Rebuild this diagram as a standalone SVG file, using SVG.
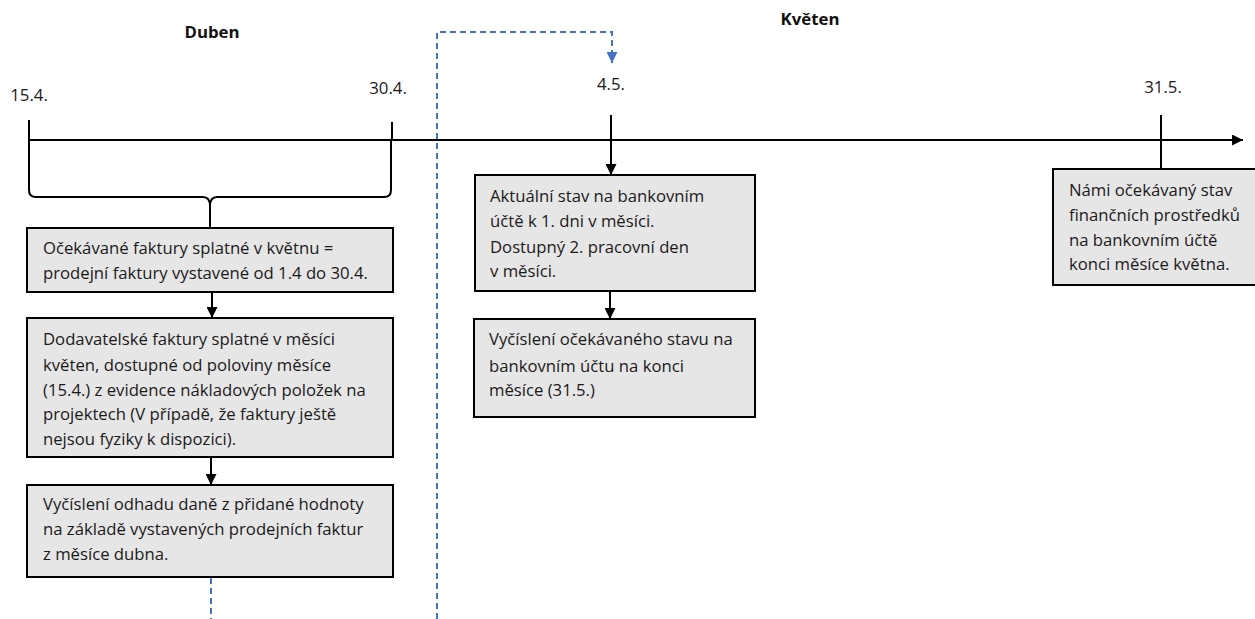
<svg xmlns="http://www.w3.org/2000/svg" width="1255" height="619" viewBox="0 0 1255 619">
<defs>
<style>
.t{font-family:"Open Sans","Liberation Sans",Arial,sans-serif;font-size:16.7px;fill:#1a1a1a}
.d{font-family:"Open Sans","Liberation Sans",Arial,sans-serif;font-size:16.8px;fill:#1a1a1a}
.h{font-family:"Open Sans","Liberation Sans",Arial,sans-serif;font-size:16.8px;font-weight:bold;fill:#111}
.box{fill:#e7e6e6;stroke:#000;stroke-width:2}
.ln{fill:none;stroke:#000;stroke-width:2}
.dash{fill:none;stroke:#4472c4;stroke-width:2;stroke-dasharray:6,4}
</style>
<marker id="ah" viewBox="0 0 10 10" refX="10" refY="5" markerWidth="5.5" markerHeight="5.5" orient="auto" markerUnits="strokeWidth"><path d="M0,0L10,5L0,10z" fill="#000"/></marker>
<marker id="ahb" viewBox="0 0 10 10" refX="10" refY="5" markerWidth="5.5" markerHeight="5.5" orient="auto" markerUnits="strokeWidth"><path d="M0,0L10,5L0,10z" fill="#4472c4"/></marker>
</defs>
<rect width="1255" height="619" fill="#fff"/>
<g id="labels">
<text class="h" x="212" y="38" text-anchor="middle">Duben</text>
<text class="h" x="810" y="25" text-anchor="middle">Květen</text>
<text class="d" x="29" y="101" text-anchor="middle">15.4.</text>
<text class="d" x="388" y="94" text-anchor="middle">30.4.</text>
<text class="d" x="611" y="90" text-anchor="middle">4.5.</text>
<text class="d" x="1163" y="93" text-anchor="middle">31.5.</text>
</g>
<g id="connectors">
<line class="ln" x1="29" y1="140" x2="1243" y2="140" marker-end="url(#ah)"/>
<line class="ln" x1="392" y1="122" x2="392" y2="140"/>
<line class="ln" x1="1161" y1="115" x2="1161" y2="169"/>
<path class="ln" d="M29,120 V190 Q29,197 36,197 H203 Q210,197 210,206 V228 M210,206 Q210,197 217,197 H384 Q391,197 391,190 V140"/>
<line class="ln" x1="611" y1="115" x2="611" y2="175" marker-end="url(#ah)"/>
<line class="ln" x1="212" y1="292" x2="212" y2="318" marker-end="url(#ah)"/>
<line class="ln" x1="211" y1="457" x2="211" y2="485" marker-end="url(#ah)"/>
<line class="ln" x1="610" y1="291" x2="610" y2="319" marker-end="url(#ah)"/>
<line class="dash" x1="211" y1="578" x2="211" y2="619"/>
<path class="dash" d="M437,619 V32 H612 V63" marker-end="url(#ahb)"/>
</g>
<g id="n1">
<rect class="box" x="27" y="228" width="366" height="64"/>
<text class="t" x="43" y="254">Očekávané faktury splatné v květnu =</text>
<text class="t" x="43" y="279">prodejní faktury vystavené od 1.4 do 30.4.</text>
</g>
<g id="n2">
<rect class="box" x="27" y="318" width="366" height="139"/>
<text class="t" x="43" y="345">Dodavatelské faktury splatné v měsíci</text>
<text class="t" x="43" y="371">květen, dostupné od poloviny měsíce</text>
<text class="t" x="43" y="396">(15.4.) z evidence nákladových položek na</text>
<text class="t" x="43" y="420">projektech (V případě, že faktury ještě</text>
<text class="t" x="43" y="445">nejsou fyziky k dispozici).</text>
</g>
<g id="n3">
<rect class="box" x="27" y="485" width="366" height="92"/>
<text class="t" x="43" y="510">Vyčíslení odhadu daně z přidané hodnoty</text>
<text class="t" x="43" y="535">na základě vystavených prodejních faktur</text>
<text class="t" x="43" y="560">z měsíce dubna.</text>
</g>
<g id="n4">
<rect class="box" x="475" y="175" width="280" height="116"/>
<text class="t" x="490" y="202">Aktuální stav na bankovním</text>
<text class="t" x="490" y="227">účtě k 1. dni v měsíci.</text>
<text class="t" x="490" y="253">Dostupný 2. pracovní den</text>
<text class="t" x="490" y="277">v měsíci.</text>
</g>
<g id="n5">
<rect class="box" x="474" y="319" width="281" height="98"/>
<text class="t" x="489" y="345">Vyčíslení očekávaného stavu na</text>
<text class="t" x="489" y="372">bankovním účtu na konci</text>
<text class="t" x="489" y="396">měsíce (31.5.)</text>
</g>
<g id="n6">
<rect class="box" x="1053" y="169" width="210" height="116"/>
<text class="t" x="1069" y="196">Námi očekávaný stav</text>
<text class="t" x="1069" y="221">finančních prostředků</text>
<text class="t" x="1069" y="246">na bankovním účtě</text>
<text class="t" x="1069" y="270">konci měsíce května.</text>
</g>
</svg>
